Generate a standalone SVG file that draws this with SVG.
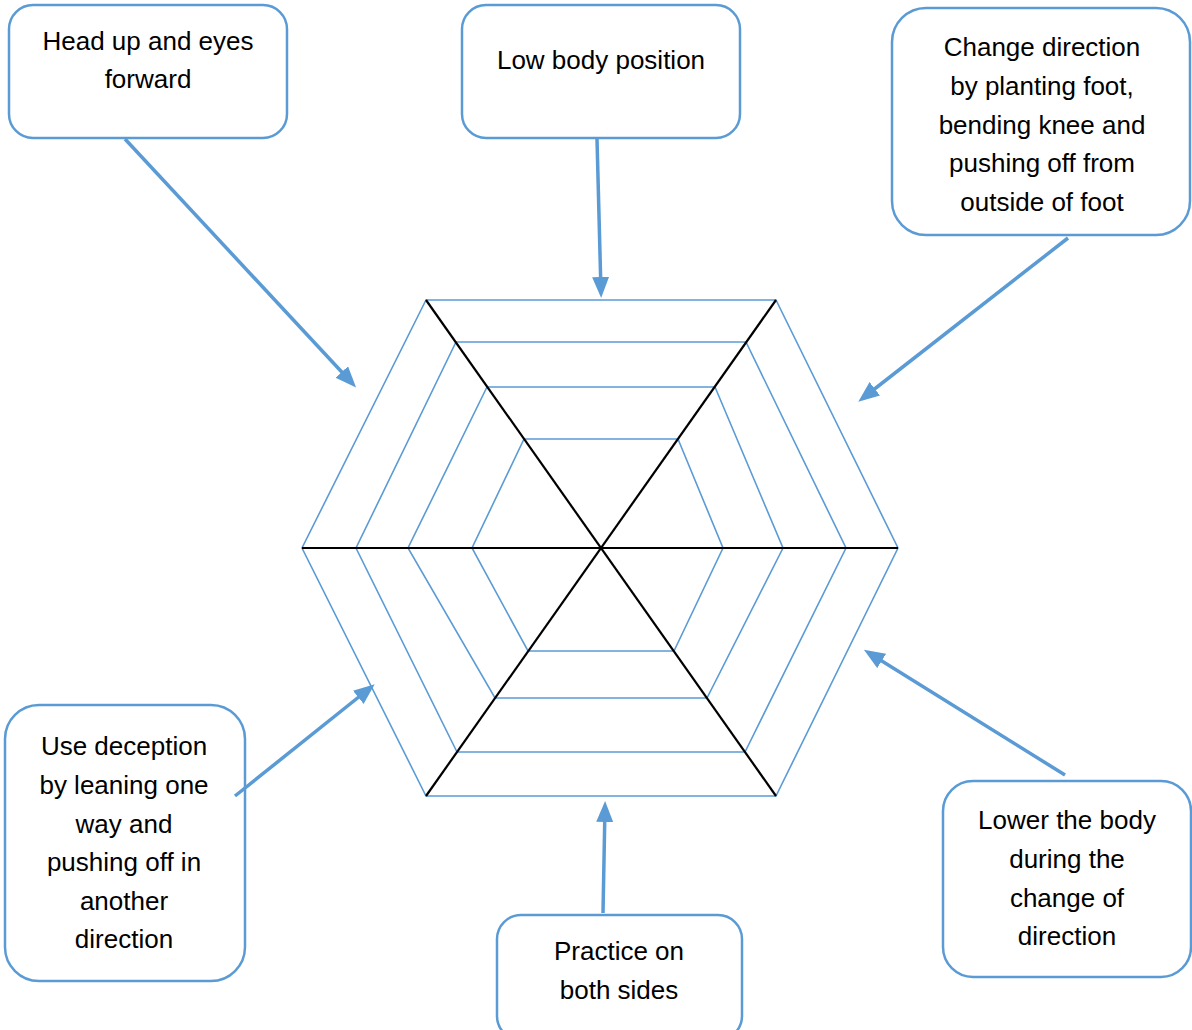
<svg xmlns="http://www.w3.org/2000/svg" width="1192" height="1030" viewBox="0 0 1192 1030">
<style>
.box{fill:#fff;stroke:#5b9bd5;stroke-width:2.5}
.t{font-family:"Liberation Sans",Arial,sans-serif;font-size:26px;fill:#000;text-anchor:middle}
.ring{fill:none;stroke:#5b9bd5;stroke-width:1.6}
.spoke{stroke:#000;stroke-width:2.2;fill:none}
.conn{stroke:#5b9bd5;stroke-width:3.5;fill:none;marker-end:url(#ah)}
</style>
<defs>
<marker id="ah" markerUnits="userSpaceOnUse" markerWidth="22" markerHeight="18" viewBox="0 0 22 18" refX="15" refY="8.5" orient="auto">
<path d="M0,0 L21,8.5 L0,17 z" fill="#5b9bd5"/>
</marker>
</defs>
<rect width="1192" height="1030" fill="#fff"/>
<g id="web">
<polygon class="ring" points="426,300 776,300 898,548 776,796 426,796 302,548"/>
<polygon class="ring" points="456,342 746,342 846,548 745,752 457,752 356,548"/>
<polygon class="ring" points="487,387 715,387 783,548 707,698 495,698 408,548"/>
<polygon class="ring" points="524,439 678,439 723,548 674,651 528,651 472,548"/>
<line class="spoke" x1="426" y1="300" x2="776" y2="796"/>
<line class="spoke" x1="776" y1="300" x2="426" y2="796"/>
<line class="spoke" x1="302" y1="548" x2="898" y2="548"/>
</g>
<g id="n1">
<rect class="box" x="9" y="5" width="278" height="133" rx="24"/>
<text class="t" x="148" y="50">Head up and eyes</text>
<text class="t" x="148" y="88">forward</text>
</g>
<g id="n2">
<rect class="box" x="462" y="5" width="278" height="133" rx="24"/>
<text class="t" x="601" y="69">Low body position</text>
</g>
<g id="n3">
<rect class="box" x="892" y="8" width="298" height="227" rx="34"/>
<text class="t" x="1042" y="56">Change direction</text>
<text class="t" x="1042" y="95">by planting foot,</text>
<text class="t" x="1042" y="134">bending knee and</text>
<text class="t" x="1042" y="172">pushing off from</text>
<text class="t" x="1042" y="211">outside of foot</text>
</g>
<g id="n4">
<rect class="box" x="5" y="705" width="240" height="276" rx="34"/>
<text class="t" x="124" y="755">Use deception</text>
<text class="t" x="124" y="794">by leaning one</text>
<text class="t" x="124" y="833">way and</text>
<text class="t" x="124" y="871">pushing off in</text>
<text class="t" x="124" y="910">another</text>
<text class="t" x="124" y="948">direction</text>
</g>
<g id="n5">
<rect class="box" x="497" y="915" width="245" height="125" rx="24"/>
<text class="t" x="619" y="960">Practice on</text>
<text class="t" x="619" y="999">both sides</text>
</g>
<g id="n6">
<rect class="box" x="943" y="781" width="248" height="196" rx="30"/>
<text class="t" x="1067" y="829">Lower the body</text>
<text class="t" x="1067" y="868">during the</text>
<text class="t" x="1067" y="907">change of</text>
<text class="t" x="1067" y="945">direction</text>
</g>
<g id="connectors">
<line class="conn" x1="125" y1="139" x2="352" y2="383"/>
<line class="conn" x1="597" y1="139" x2="601" y2="292"/>
<line class="conn" x1="1068" y1="238" x2="863" y2="398"/>
<line class="conn" x1="235" y1="796" x2="370" y2="688"/>
<line class="conn" x1="603" y1="913" x2="605" y2="807"/>
<line class="conn" x1="1065" y1="775" x2="869" y2="653"/>
</g>
</svg>
